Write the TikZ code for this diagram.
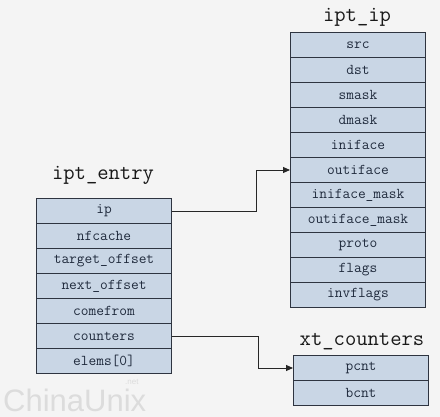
\documentclass[tikz,border=0pt]{standalone}
\usepackage{fontspec}
\newfontfamily\wmfont{Liberation Sans}
\usetikzlibrary{arrows.meta}
\definecolor{bgc}{HTML}{F4F4F4}
\definecolor{cellc}{HTML}{C9D6E5}
\definecolor{edgec}{HTML}{2E3440}
\definecolor{txtc}{HTML}{1F2A3C}
\definecolor{wmc}{HTML}{DCDCDC}
\tikzset{
  cell/.style={draw=edgec, line width=1pt, fill=cellc, minimum width=135pt, minimum height=25pt,
    inner sep=0pt, font=\fontsize{15}{15}\ttfamily, text=txtc, anchor=north west},
  title/.style={font=\fontsize{22}{22}\ttfamily, text=black!90},
  link/.style={draw=black!85, line width=0.9pt, -{Triangle[length=7pt,width=6pt]}},
}
\begin{document}
\begin{tikzpicture}[x=1pt,y=-1pt]
\fill[bgc] (0,0) rectangle (440,417);
\useasboundingbox (0,0) rectangle (440,417);
% watermark
\node[font=\wmfont\fontsize{31}{31}\selectfont, text=wmc, anchor=west, inner sep=0pt] (wm) at (3,400) {ChinaUnix};
\node[font=\wmfont\fontsize{8}{8}\selectfont, text=wmc, anchor=west, inner sep=0pt] (wmnet) at (125,382) {.net};
% ipt_ip
\node[title] (tip) at (357,17) {ipt\_ip};
\foreach \t [count=\i from 0] in {src,dst,smask,dmask,iniface,outiface,iniface\_mask,outiface\_mask,proto,flags,invflags}{
  \node[cell] (ip\i) at (290,{32+\i*25}) {\t};
}
% ipt_entry
\node[title] (tentry) at (103,175) {ipt\_entry};
\foreach \t [count=\i from 0] in {ip,nfcache,target\_offset,next\_offset,comefrom,counters,elems[0]}{
  \node[cell] (en\i) at (36,{198+\i*25}) {\t};
}
% xt_counters
\node[title] (tcnt) at (362,342) {xt\_counters};
\foreach \t [count=\i from 0] in {pcnt,bcnt}{
  \node[cell] (ct\i) at (293,{355+\i*25}) {\t};
}
% connectors
\coordinate (b1) at (256,0);
\coordinate (b2) at (258,0);
\draw[link] (en0.east) -- (en0.east -| b1) |- (ip5.west);
\draw[link] (en5.east) -- (en5.east -| b2) |- (ct0.west);
\end{tikzpicture}
\end{document}
